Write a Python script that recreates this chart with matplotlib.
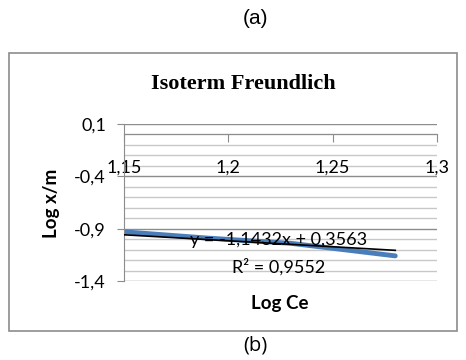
import matplotlib
matplotlib.use('Agg')
import matplotlib.pyplot as plt
import numpy as np
from matplotlib.patches import Rectangle

# data
log_ce = [1.15, 1.19, 1.23, 1.28]
log_xm = [-0.93, -0.99, -1.04, -1.16]
slope = -1.1432
intercept = 0.3563
r2 = 0.9552

x_ticks = [1.15, 1.2, 1.25, 1.3]
y_ticks = [0.1, -0.4, -0.9, -1.4]

def comma(v):
    return f"{v:g}".replace('.', ',')

fig = plt.figure(figsize=(4.66, 3.6), dpi=100)

# outer chart frame
fig.patches.append(Rectangle((9 / 466, 1 - 331 / 360), 448 / 466, 278 / 360,
                             transform=fig.transFigure, fill=False,
                             edgecolor='#8c8c8c', lw=1.2))

fig.text(256 / 466, 1 - 19 / 360, '(a)', ha='center', va='center',
         family='Liberation Sans', fontsize=15)
fig.text(255 / 466, 1 - 345 / 360, '(b)', ha='center', va='center',
         family='Open Sans', fontsize=14.5)
fig.text(243 / 466, 1 - 84 / 360, 'Isoterm Freundlich', ha='center', va='center',
         family='Liberation Serif', fontweight='bold', fontsize=16)

ax = fig.add_axes([124 / 466, 1 - 281 / 360, 313 / 466, 157 / 360])
ax.set_xlim(1.15, 1.3)
ax.set_ylim(-1.4, 0.1)

# gridlines every 0.1, darker at the labelled ticks
for g in np.arange(0.1, -1.45, -0.1):
    major = any(abs(g - t) < 1e-6 for t in y_ticks)
    ax.axhline(g, color='#8c8c8c' if major else '#c8c8c8', lw=1.0, zorder=0)

ax.plot(log_ce, log_xm, color='#4a7ebb', lw=3.5, solid_capstyle='round', zorder=2)
xt = np.array([log_ce[0], log_ce[-1]])
ax.plot(xt, slope * xt + intercept, color='black', lw=1.2, zorder=3)

for s in ['top', 'right']:
    ax.spines[s].set_visible(False)
ax.spines['bottom'].set_position(('data', 0))
ax.spines['bottom'].set_color('#8c8c8c')
ax.spines['left'].set_color('#8c8c8c')

ax.set_xticks(x_ticks)
ax.set_xticklabels([comma(v) for v in x_ticks], family='Lato', fontsize=13)
ax.set_yticks(y_ticks)
ax.set_yticklabels([comma(v) for v in y_ticks], family='Lato', fontsize=13)
ax.tick_params(axis='x', direction='out', length=6, color='#8c8c8c', pad=12)
ax.tick_params(axis='y', direction='out', length=5, color='#8c8c8c', pad=8)

ax.text(1.224, -1.008, f"y = {comma(slope)}x + {comma(intercept)}",
        ha='center', va='center', family='Lato', fontsize=13, zorder=4)
ax.text(1.224, -1.266, f"R² = {comma(r2)}",
        ha='center', va='center', family='Lato', fontsize=13, zorder=4)

fig.text(280 / 466, 1 - 303 / 360, 'Log Ce', ha='center', va='center',
         family='Lato', fontweight='bold', fontsize=13.5)
fig.text(51 / 466, 1 - 203 / 360, 'Log x/m', ha='center', va='center',
         rotation=90, family='Lato', fontweight='bold', fontsize=13.5)

fig.savefig('out.png', dpi=100)
